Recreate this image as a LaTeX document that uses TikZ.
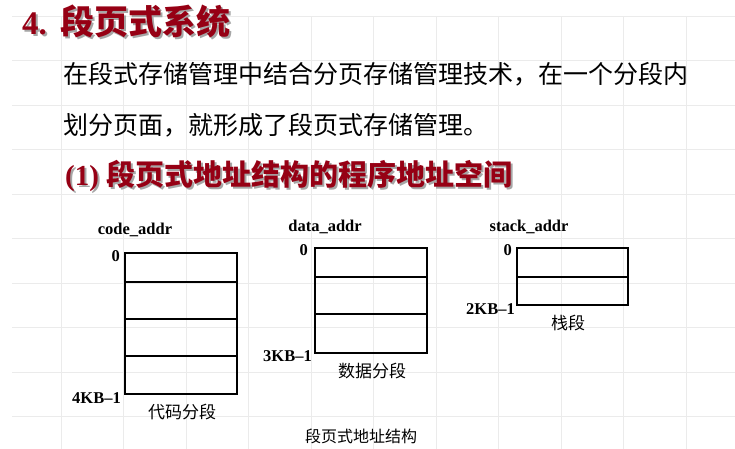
\documentclass[tikz,border=0pt]{standalone}
\usepackage{fontspec}
\setmainfont{Liberation Serif}
\newfontfamily\cjk{Noto Sans CJK SC}
\definecolor{titlered}{RGB}{150,0,20}
\newcommand\shadowtext[1]{\rlap{\kern2pt\raisebox{-2pt}{\color{gray!70}#1}}#1}
\tikzset{
  gridline/.style={black!8, line width=0.8pt},
  segbox/.style={draw, line width=1.8pt, inner sep=0, anchor=north west},
  pagesep/.style={line width=1.8pt},
  headline/.style={anchor=west, inner sep=0, text=titlered},
  bodyline/.style={anchor=west, inner sep=0, font=\fontsize{25}{25}\selectfont\cjk},
  addrlabel/.style={font=\fontsize{16.5}{16.5}\selectfont\bfseries, inner sep=0},
  seglabel/.style={font=\fontsize{17}{17}\selectfont\cjk, inner sep=0},
}

\begin{document}
\begin{tikzpicture}[x=1pt, y=-1pt]
    \useasboundingbox (0, 0) rectangle (735, 449);
    % grid
    \foreach \k in {0,...,9}
      \draw [gridline] (12, 16+44.5*\k) -- (735, 16+44.5*\k);
    \foreach \k in {0,...,10}
      \draw [gridline] (61+62.5*\k, 16) -- (61+62.5*\k, 449);
    % title
    \node [headline, font=\fontsize{33}{33}\selectfont\bfseries]
          (title) at (22, 22) {\shadowtext{4.\hspace{14pt}{\cjk\fontsize{34}{34}\selectfont 段页式系统}}};
    % text
    \node [bodyline] (line1) at (63, 74) {在段式存储管理中结合分页存储管理技术，在一个分段内};
    \node [bodyline] (line2) at (63, 125) {划分页面，就形成了段页式存储管理。};
    % subtitle
    \node [headline, font=\fontsize{29}{29}\selectfont\bfseries]
          (subtitle) at (65, 177) {\shadowtext{(1) {\cjk 段页式地址结构的程序地址空间}}};
    % code segment
    \node [segbox, minimum width=112pt, minimum height=141pt] (code) at (124, 252) {};
    \foreach \y in {282,319,356}
      \draw [pagesep] (124, \y) -- (236, \y);
    \node [addrlabel] (codename) at (135, 230) {code\_addr};
    \node [addrlabel, anchor=east] (codetop) at (120, 256) {0};
    \node [addrlabel, anchor=east] (codeend) at (121, 398) {4KB--1};
    \node [seglabel] (codetext) at (182, 412) {代码分段};
    % data segment
    \node [segbox, minimum width=112pt, minimum height=105pt] (data) at (314, 247) {};
    \foreach \y in {277,314}
      \draw [pagesep] (314, \y) -- (426, \y);
    \node [addrlabel] (dataname) at (325, 227) {data\_addr};
    \node [addrlabel, anchor=east] (datatop) at (308, 250) {0};
    \node [addrlabel, anchor=east] (dataend) at (312, 356) {3KB--1};
    \node [seglabel] (datatext) at (372, 371) {数据分段};
    % stack segment
    \node [segbox, minimum width=111pt, minimum height=57pt] (stack) at (516, 247) {};
    \draw [pagesep] (516, 277) -- (627, 277);
    \node [addrlabel] (stackname) at (529, 227) {stack\_addr};
    \node [addrlabel, anchor=east] (stacktop) at (512, 250) {0};
    \node [addrlabel, anchor=east] (stackend) at (515, 309) {2KB--1};
    \node [seglabel] (stacktext) at (568, 323) {栈段};
    % caption
    \node [inner sep=0, font=\fontsize{16}{16}\selectfont\cjk] (caption) at (361, 436) {段页式地址结构};
\end{tikzpicture}
\end{document}
